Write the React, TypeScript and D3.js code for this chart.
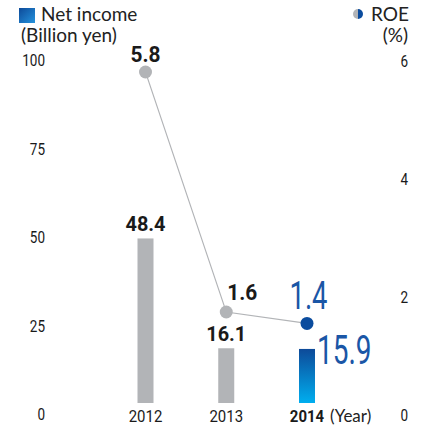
import React from 'react';
import * as d3 from 'd3';

const years = ['2012', '2013', '2014'];
const netIncome = [48.4, 16.1, 15.9];
const roe = [5.8, 1.6, 1.4];
const leftTicks = [0, 25, 50, 75, 100];
const rightTicks = [0, 2, 4, 6];

const W = 424;
const H = 427;
const cond = 'Roboto, "DejaVu Sans Condensed", sans-serif';
const sans = 'Lato, "Open Sans", sans-serif';
const grey = '#b2b4b7';
const blue = '#1a56a6';
const ink = '#1a1a1a';

type NTProps = {
  x: number; y: number; sx?: number; size: number; anchor?: string;
  weight?: string; fill?: string; family?: string; children: React.ReactNode;
};

// condensed text: the original face is a narrow one, so squeeze horizontally
const NText = ({ x, y, sx = 1, size, anchor = 'start', weight = 'normal', fill = ink, family = cond, children }: NTProps) => (
  <text transform={`translate(${x},${y}) scale(${sx},1)`} textAnchor={anchor}
    fontFamily={family} fontSize={size} fontWeight={weight} fill={fill}>{children}</text>
);

const App = () => {
  const x = d3.scalePoint<string>().domain(years).range([145.5, 307]);
  const yBar = d3.scaleLinear().domain([0, 100]).range([403, 63]);
  const yRoe = d3.scaleLinear().domain([0, 6]).range([403.4, 60.6]);
  // tick labels sit a little outside the plot range
  const yLeftLbl = d3.scaleLinear().domain([0, 100]).range([414, 60]);
  const yRightLbl = d3.scaleLinear().domain([0, 6]).range([415, 61]);
  const barW = 16;
  const last = years.length - 1;

  const line = d3.line<number>()
    .x((_, i) => x(years[i]) as number)
    .y(d => yRoe(d));

  return (
    <svg width={W} height={H} style={{ position: 'absolute', left: 0, top: 0, background: '#fff' }}>
      <defs>
        <linearGradient id="barGrad" x1="0" y1="0" x2="0" y2="1">
          <stop offset="0%" stopColor="#0d4a99" />
          <stop offset="100%" stopColor="#00aeef" />
        </linearGradient>
        <linearGradient id="legGrad" x1="0" y1="0" x2="1" y2="1">
          <stop offset="0%" stopColor="#0d4a99" />
          <stop offset="100%" stopColor="#2593dd" />
        </linearGradient>
        <clipPath id="halfL"><rect x={350} y={6} width={8} height={16} /></clipPath>
        <clipPath id="halfR"><rect x={358} y={6} width={8} height={16} /></clipPath>
      </defs>

      {/* legends */}
      <rect x={19} y={8} width={16} height={15} fill="url(#legGrad)" />
      <text x={41} y={21} fontFamily={sans} fontSize={19} fill="#222">Net income</text>
      <text x={21} y={42} fontFamily={sans} fontSize={19} fill="#222">(Billion yen)</text>

      <circle cx={358} cy={14} r={5} fill={grey} clipPath="url(#halfL)" />
      <circle cx={358} cy={14} r={5} fill="#0b4c9e" clipPath="url(#halfR)" />
      <text x={409} y={21} textAnchor="end" fontFamily={sans} fontSize={19} fill="#222">ROE</text>
      <text x={408} y={42} textAnchor="end" fontFamily={sans} fontSize={19} fill="#222">(%)</text>

      {/* axis labels */}
      {leftTicks.map(t => (
        <NText key={'l' + t} x={45} y={yLeftLbl(t) + 6} sx={0.82} size={16.5} anchor="end">{t}</NText>
      ))}
      {rightTicks.map(t => (
        <NText key={'r' + t} x={408} y={yRightLbl(t) + 6} sx={0.82} size={16.5} anchor="end">{t}</NText>
      ))}

      {/* bars */}
      {netIncome.map((v, i) => (
        <rect key={'b' + i} x={(x(years[i]) as number) - barW / 2} y={yBar(v)}
          width={barW} height={yBar(0) - yBar(v)}
          fill={i === last ? 'url(#barGrad)' : grey} />
      ))}

      {/* bar values */}
      {netIncome.map((v, i) => i === last ? (
        <NText key={'bv' + i} x={(x(years[i]) as number) + 10} y={yBar(v) + 15}
          sx={0.7} size={40} fill={blue}>{v.toFixed(1)}</NText>
      ) : (
        <NText key={'bv' + i} x={x(years[i]) as number} y={yBar(v) - 7}
          sx={0.95} size={21} weight="bold" anchor="middle">{v.toFixed(1)}</NText>
      ))}

      {/* ROE line */}
      <path d={line(roe) ?? ''} fill="none" stroke={grey} strokeWidth={1.1} />
      {roe.map((v, i) => (
        <circle key={'p' + i} cx={x(years[i]) as number} cy={yRoe(v)} r={6.5}
          fill={i === last ? '#0b4c9e' : grey} />
      ))}
      {roe.map((v, i) => {
        const cx = x(years[i]) as number;
        const cy = yRoe(v);
        if (i === last) {
          return (
            <NText key={'rv' + i} x={cx + 1.5} y={cy - 14} sx={0.72} size={38}
              anchor="middle" fill={blue}>{v.toFixed(1)}</NText>
          );
        }
        const dx = i === 0 ? 0 : 16;
        const dy = i === 0 ? 10 : 12;
        return (
          <NText key={'rv' + i} x={cx + dx} y={cy - dy} sx={0.95} size={22}
            weight="bold" anchor="middle">{v.toFixed(1)}</NText>
        );
      })}

      {/* year labels */}
      {years.map((yr, i) => (
        <NText key={'y' + yr} x={x(yr) as number} y={422} sx={0.88} size={17}
          weight={i === last ? 'bold' : 'normal'} anchor="middle">{yr}</NText>
      ))}
      <text x={330} y={422} fontFamily={sans} fontSize={17} fill="#222">(Year)</text>
    </svg>
  );
};

export default App;
